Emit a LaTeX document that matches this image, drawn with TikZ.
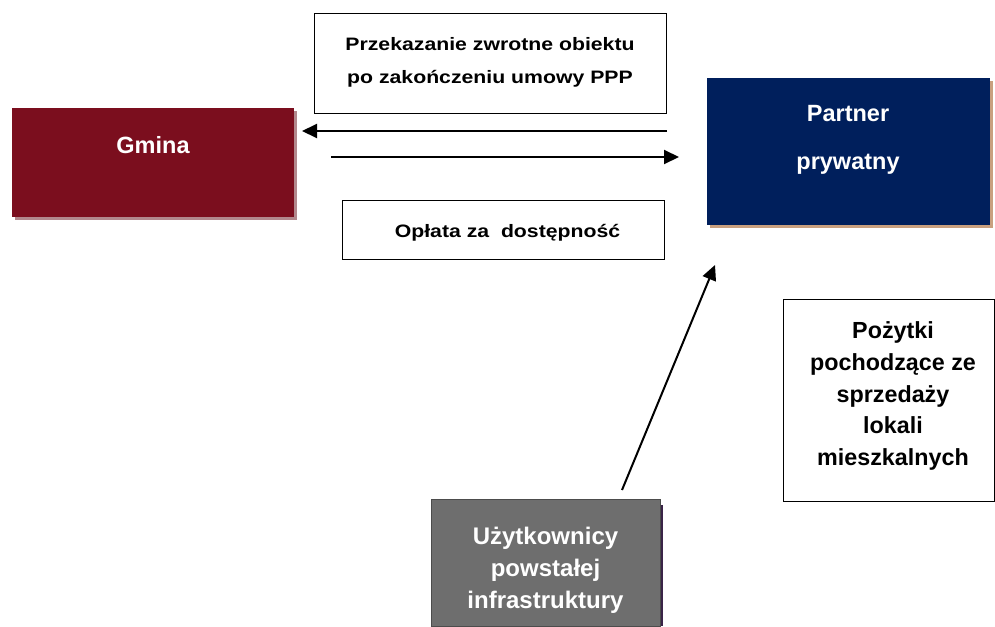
\documentclass[tikz,border=0pt]{standalone}
\usepackage{fontspec}
\setmainfont{Liberation Sans}
\newfontfamily\stretchfont[FakeStretch=1.18]{Liberation Sans}
\usetikzlibrary{arrows.meta}
\definecolor{gminared}{HTML}{7B0E1E}
\definecolor{gminashadow}{HTML}{B2888D}
\definecolor{partnerblue}{HTML}{001F5C}
\definecolor{partnershadow}{HTML}{C9A07F}
\definecolor{usergray}{HTML}{6E6E6E}
\definecolor{usershadow}{HTML}{3A2448}
\tikzset{
  colbox/.style={inner sep=0pt, text=white, align=center},
  txtbox/.style={draw=black, line width=1pt, fill=white, inner sep=0pt},
  txt/.style={inner sep=0pt, align=center},
  conn/.style={line width=2pt, -{Triangle[length=15pt,width=14pt]}}
}
\begin{document}
\begin{tikzpicture}[x=1pt,y=-1pt]
\useasboundingbox (0,0) rectangle (995,626);
% Gmina
\fill[gminashadow] (15,111) rectangle (297,220);
\node[fill=gminared, minimum width=282pt, minimum height=109pt, anchor=north west, inner sep=0pt] (gminabox) at (12,108) {};
\node[colbox, anchor=base, font=\fontsize{23.5}{28}\selectfont\bfseries] (gmina) at (153,153) {Gmina};
% Partner
\fill[partnershadow] (710,81) rectangle (993,228);
\node[fill=partnerblue, minimum width=283pt, minimum height=147pt, anchor=north west, inner sep=0pt] (partnerbox) at (707,78) {};
\node[colbox, font=\fontsize{23.5}{48}\selectfont\bfseries] (partner) at (848,140) {Partner\\prywatny};
% top text box
\node[txtbox, minimum width=352pt, minimum height=99pt] (zwrotbox) at (490,63.5) {};
\node[txt, font=\fontsize{18}{33}\stretchfont\bfseries] (zwrot) at (490,62) {Przekazanie zwrotne obiektu\\po zakończeniu umowy PPP};
% lower text box
\node[txtbox, minimum width=322pt, minimum height=59pt] (oplatabox) at (503,229.5) {};
\node[txt, anchor=base, font=\fontsize{18}{22}\stretchfont\bfseries] (oplata) at (507.5,237) {Opłata za\ \ dostępność};
% right box
\node[txtbox, minimum width=211pt, minimum height=202pt] (pozytkibox) at (889,400) {};
\node[txt, font=\fontsize{23.3}{31.7}\selectfont\bfseries] (pozytki) at (893,396) {Pożytki\\pochodzące ze\\sprzedaży\\lokali\\mieszkalnych};
% users box
\fill[usershadow] (660,505) rectangle (663,626);
\node[draw=black!70, line width=0.6pt, fill=usergray, minimum width=229pt, minimum height=127pt, anchor=north west, inner sep=0pt] (users) at (431,499) {};
\node[colbox, font=\fontsize{24}{32}\selectfont\bfseries] (userstxt) at (545.5,570) {Użytkownicy\\powstałej\\infrastruktury};
% arrows
\coordinate (a1s) at (667,131);
\coordinate (a1e) at (302,131);
\coordinate (a2s) at (331,157);
\coordinate (a2e) at (679,157);
\coordinate (a3s) at (622,490);
\coordinate (a3e) at (715,265);
\draw[conn] (a1s) -- (a1e);
\draw[conn] (a2s) -- (a2e);
\draw[conn] (a3s) -- (a3e);
\end{tikzpicture}
\end{document}
